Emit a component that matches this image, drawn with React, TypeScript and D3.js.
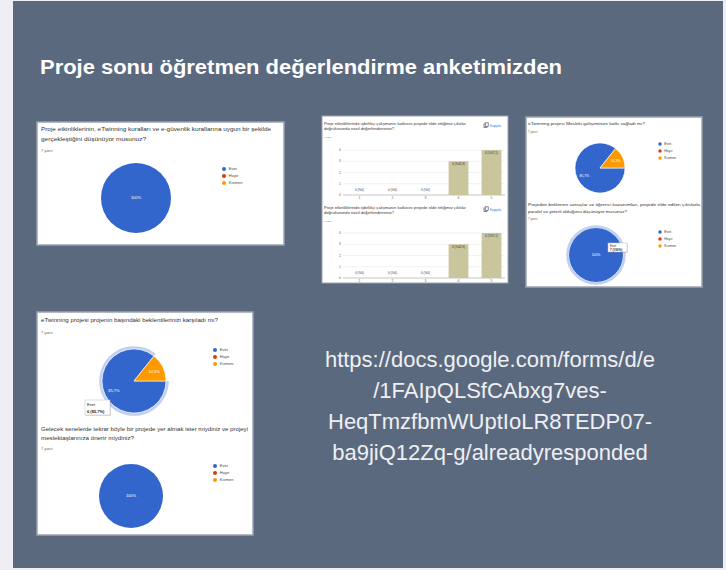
import React from "react";
import * as d3 from "d3";

const PIE_CATS = ["Evet", "Hayır", "Kısmen"];
const PIE_COLORS = ["#3366cc", "#dc3912", "#ff9900"];
const pieA = [7, 0, 0];
const pieC1 = [6, 0, 1];
const pieC2 = [7, 0, 0];
const pieD1 = [6, 0, 1];
const pieD2 = [7, 0, 0];

const BAR_CATS = ["1", "2", "3", "4", "5"];
const barB1 = [0, 0, 0, 3, 4];
const barB2 = [0, 0, 0, 3, 4];
const Y_TICKS = [0, 1, 2, 3, 4];

const TITLE = "Proje sonu öğretmen değerlendirme anketimizden";
const URL_LINES = [
  "https://docs.google.com/forms/d/e",
  "/1FAIpQLSfCAbxg7ves-",
  "HeqTmzfbmWUptIoLR8TEDP07-",
  "ba9jiQ12Zq-g/alreadyresponded",
];
const Q_A = ["Proje etkinliklerinin, eTwinning kuralları ve e-güvenlik kurallarına uygun bir şekilde", "gerçekleştiğini düşünüyor musunuz?"];
const Q_B = ["Proje etkinliklerinde işbirlikçi çalışmanın katkısını projede elde ettiğimiz çıktılar", "doğrultusunda nasıl değerlendirirsiniz?"];
const Q_C1 = ["eTwinning projesi Mesleki gelişiminize katkı sağladı mı?"];
const Q_C2 = ["Projeden beklenen sonuçlar ve öğrenci kazanımları, projede elde edilen çıktılarla", "paralel ve yeterli olduğunu düşünüyor musunuz?"];
const Q_D1 = ["eTwinning projesi projenin başındaki beklentilerinizi karşıladı mı?"];
const Q_D2 = ["Gelecek senelerde tekrar böyle bir projede yer almak ister miydiniz ve projeyi", "meslektaşlarınıza önerir miydiniz?"];
const RESP = "7 yanıt";

const FONT = "'Liberation Sans', Arial, sans-serif";
const fmt = (v: number) => (Math.round(v * 1000) / 10).toString().replace(".", ",");

function Question({ x, y, lines, fs, gap, widths, respY }: any) {
  return (
    <g fontFamily={FONT} fill="#333">
      {lines.map((l: string, i: number) => (
        <text key={i} x={x} y={y + i * gap} fontSize={fs}
          textLength={widths && widths[i] ? widths[i] : undefined}
          lengthAdjust="spacingAndGlyphs">{l}</text>
      ))}
      <text x={x} y={respY} fontSize={fs * 0.7} fill="#666">{RESP}</text>
    </g>
  );
}

function Legend({ x, y, gap, fs }: any) {
  return (
    <g fontFamily={FONT}>
      {PIE_CATS.map((c, i) => (
        <g key={c}>
          <circle cx={x} cy={y + i * gap} r={fs * 0.5} fill={PIE_COLORS[i]} />
          <text x={x + fs * 1.2} y={y + i * gap + fs * 0.35} fontSize={fs} fill="#444">{c}</text>
        </g>
      ))}
    </g>
  );
}

function Pie({ cx, cy, r, values, labelK, fs, hover, tooltip }: any) {
  const total = d3.sum(values);
  const arcs = d3.pie<number>().sort(null).startAngle(Math.PI / 2).endAngle(Math.PI / 2 + 2 * Math.PI)(values);
  const arc = d3.arc<any>().innerRadius(0).outerRadius(r);
  const ring = d3.arc<any>().innerRadius(r + 0.3).outerRadius(r + 2.8);
  const lab = d3.arc<any>().innerRadius(r * labelK).outerRadius(r * labelK);
  return (
    <g transform={`translate(${cx},${cy})`} fontFamily={FONT}>
      {hover && arcs.filter((a) => a.value > 0 && a.index === 0).map((a, i) => (
        <path key={"h" + i} d={ring(a) || ""} fill="#c2d0ee" />
      ))}
      {arcs.filter((a) => a.value > 0).map((a) => (
        <path key={a.index} d={arc(a) || ""} fill={PIE_COLORS[a.index]} stroke="#fff" strokeWidth={a.value === total ? 0 : 0.6} />
      ))}
      {arcs.filter((a) => a.value > 0).map((a) => {
        const p = a.value === total ? [0, 0] : lab.centroid(a);
        return (
          <text key={"t" + a.index} x={p[0]} y={p[1] + fs * 0.35} fontSize={fs} fill="#fff" textAnchor="middle">
            {a.value === total ? "100%" : fmt(a.value / total) + "%"}
          </text>
        );
      })}
      {tooltip && (
        <g transform={`translate(${tooltip.dx},${tooltip.dy})`}>
          <rect x={0.8} y={0.8} width={tooltip.w} height={tooltip.h} fill="#000" opacity={0.15} />
          <rect x={0} y={0} width={tooltip.w} height={tooltip.h} fill="#fff" stroke="#bbb" strokeWidth={0.5} />
          <text x={2} y={tooltip.h * 0.42} fontSize={tooltip.fs} fill="#222">{PIE_CATS[0]}</text>
          <text x={2} y={tooltip.h * 0.85} fontSize={tooltip.fs} fill="#222" fontWeight="bold">
            {values[0] + " (" + (values[0] === total ? "100" : fmt(values[0] / total)) + "%)"}
          </text>
        </g>
      )}
    </g>
  );
}

function Bars({ values, top, bottom, left, right }: any) {
  const x = d3.scaleBand().domain(BAR_CATS).range([left, right]).paddingInner(0.4).paddingOuter(0.2);
  const y = d3.scaleLinear().domain([0, 4]).range([bottom, top]);
  const total = d3.sum(values);
  return (
    <g fontFamily={FONT}>
      {Y_TICKS.map((t) => (
        <g key={t}>
          <line x1={left} x2={right - 3} y1={y(t)} y2={y(t)} stroke={t === 0 ? "#888" : "#e3e3e3"} strokeWidth={0.5} />
          <text x={left - 2} y={y(t) + 1.2} fontSize={3.4} fill="#666" textAnchor="end">{t}</text>
        </g>
      ))}
      {values.map((v: number, i: number) => {
        const cx = (x(BAR_CATS[i]) as number) + x.bandwidth() / 2;
        const label = v + " (%" + (v === 0 ? "0" : fmt(v / total)) + ")";
        return (
          <g key={i}>
            {v > 0 && <rect x={x(BAR_CATS[i])} y={y(v)} width={x.bandwidth()} height={y(0) - y(v)} fill="#c9c59c" />}
            <text x={cx} y={v > 0 ? y(v) + 4 : y(0) - 4} fontSize={3} fill="#333" textAnchor="middle">{label}</text>
            <text x={cx} y={y(0) + 4} fontSize={3.4} fill="#666" textAnchor="middle">{BAR_CATS[i]}</text>
          </g>
        );
      })}
    </g>
  );
}

function CopyIcon({ x, y }: any) {
  return (
    <g fontFamily={FONT}>
      <rect x={x} y={y - 3} width={3} height={3.5} fill="none" stroke="#555" strokeWidth={0.7} />
      <rect x={x + 1.2} y={y - 4.2} width={3} height={3.5} fill="#fff" stroke="#555" strokeWidth={0.7} />
      <text x={x + 6} y={y} fontSize={3} fill="#1a73e8">Kopyala</text>
    </g>
  );
}

export default function App() {
  return (
    <div style={{ position: "absolute", left: 0, top: 0 }}>
      <svg width={726} height={570} style={{ display: "block" }}>
        <rect x={0} y={0} width={726} height={570} fill="#efeef4" />
        <rect x={13} y={1} width={710} height={567} fill="#5b697f" />
        <text x={40} y={74} fontFamily={FONT} fontWeight="bold" fontSize={20} fill="#fff"
          textLength={522} lengthAdjust="spacingAndGlyphs">{TITLE}</text>

        {/* Panel A */}
        <rect x={37} y={122} width={247} height={123} fill="#fff" stroke="#9aa3b0" strokeWidth={1.5} />
        <Question x={41} y={131} lines={Q_A} fs={5.5} gap={10} widths={[230, 105]} respY={152} />
        <Pie cx={136} cy={198} r={35} values={pieA} labelK={0.7} fs={4} />
        <Legend x={224} y={169} gap={7} fs={4} />

        {/* Panel B */}
        <rect x={322} y={116} width={186} height={167} fill="#fff" stroke="#9aa3b0" strokeWidth={1} />
        <Question x={324} y={125} lines={Q_B} fs={3.5} gap={5} widths={[142, 70]} respY={138} />
        <CopyIcon x={484} y={127} />
        <Bars values={barB1} top={150} bottom={195} left={343} right={508} />
        <Question x={324} y={209} lines={Q_B} fs={3.5} gap={5} widths={[142, 70]} respY={222} />
        <CopyIcon x={484} y={211} />
        <Bars values={barB2} top={233} bottom={278} left={343} right={508} />

        {/* Panel C */}
        <rect x={526} y={117} width={176} height={170} fill="#fff" stroke="#9aa3b0" strokeWidth={1.5} />
        <Question x={528} y={125} lines={Q_C1} fs={4.4} gap={7} widths={[117]} respY={133} />
        <Pie cx={600} cy={168} r={25} values={pieC1} labelK={0.7} fs={3.4} />
        <Legend x={660} y={144} gap={7} fs={3.5} />
        <Question x={528} y={206} lines={Q_C2} fs={4.4} gap={7} widths={[172, 99]} respY={220} />
        <Pie cx={596} cy={255} r={27} values={pieC2} labelK={0.7} fs={3.4} hover
          tooltip={{ dx: 12, dy: -12, w: 19, h: 9, fs: 3 }} />
        <Legend x={660} y={232} gap={7} fs={3.5} />

        {/* Panel D */}
        <rect x={37} y={312} width={216} height={223} fill="#fff" stroke="#9aa3b0" strokeWidth={1.5} />
        <Question x={41} y={322} lines={Q_D1} fs={5.5} gap={9} widths={[177]} respY={334} />
        <Pie cx={134} cy={381} r={32} values={pieD1} labelK={0.7} fs={4} hover
          tooltip={{ dx: -49, dy: 19, w: 25, h: 15, fs: 4 }} />
        <Legend x={215} y={350} gap={7} fs={4} />
        <Question x={41} y={431} lines={Q_D2} fs={5.5} gap={9} widths={[207, 93]} respY={450} />
        <Pie cx={131} cy={496} r={32} values={pieD2} labelK={0.7} fs={4} />
        <Legend x={215} y={466} gap={7} fs={4} />

        {/* URL */}
        <g fontFamily={FONT} fontSize={22} fill="#eef0f3" textAnchor="middle">
          {URL_LINES.map((l, i) => (
            <text key={i} x={490} y={367 + i * 31}>{l}</text>
          ))}
        </g>
      </svg>
    </div>
  );
}
